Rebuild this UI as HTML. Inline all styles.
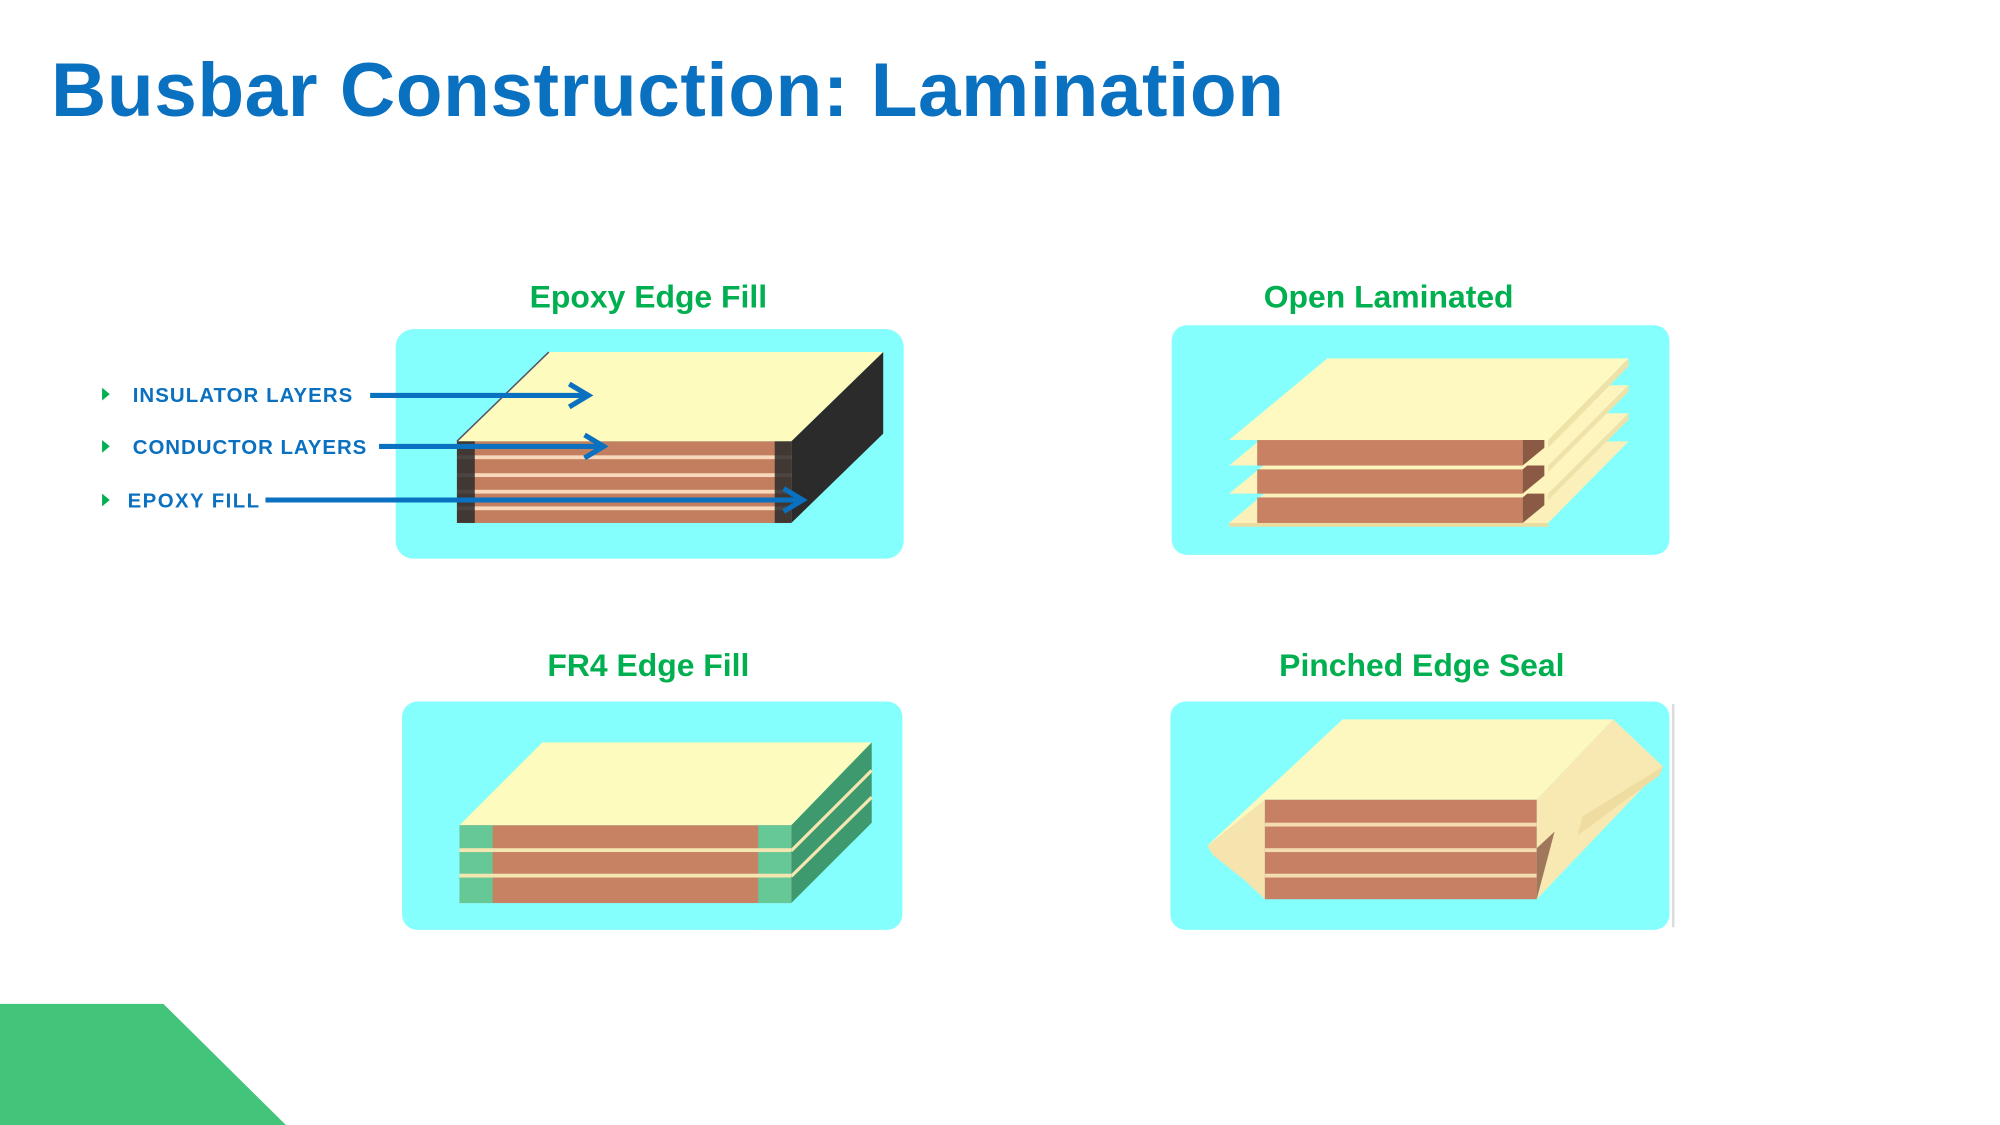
<!DOCTYPE html>
<html><head><meta charset="utf-8"><style>
html,body{margin:0;padding:0;background:#fff;width:2000px;height:1125px;overflow:hidden}
svg{display:block}
text{font-family:"Liberation Sans",Arial,sans-serif;font-weight:bold}
</style></head><body>
<svg width="2000" height="1125" viewBox="0 0 1567 882" preserveAspectRatio="none" xmlns="http://www.w3.org/2000/svg">
<text x="40" y="91" font-size="60" fill="#0a70c0" textLength="966">Busbar Construction: Lamination</text>
<g font-size="25" fill="#00b050" text-anchor="middle">
<text x="508" y="241">Epoxy Edge Fill</text>
<text x="1088" y="241">Open Laminated</text>
<text x="508" y="530">FR4 Edge Fill</text>
<text x="1114" y="530">Pinched Edge Seal</text>
</g>
<!-- panels -->
<rect x="310" y="258" width="398" height="180" rx="14" fill="#84fffd"/>
<rect x="918" y="255" width="390" height="180" rx="12" fill="#84fffd"/>
<rect x="315" y="550" width="392" height="179" rx="12" fill="#84fffd"/>
<rect x="917" y="550" width="391" height="179" rx="12" fill="#84fffd"/>
<line x1="1311" y1="552" x2="1311" y2="727" stroke="#ddd" stroke-width="2"/>

<!-- epoxy block -->
<polygon points="358,346 430,276 692,276 620,346" fill="#fdfbbd"/>
<line x1="358" y1="346" x2="430" y2="276" stroke="#556" stroke-width="1.2"/>
<polygon points="620,346 692,276 692,340 620,410" fill="#2b2b2b"/>
<rect x="358" y="346" width="262" height="64" fill="#c27e5e"/>
<g fill="#f7d8bb"><rect x="358" y="357" width="262" height="3"/><rect x="358" y="371" width="262" height="3"/><rect x="358" y="384" width="262" height="3"/><rect x="358" y="397" width="262" height="3"/></g>
<rect x="358" y="346" width="14" height="64" fill="#2b2b2b" opacity="0.85"/>
<rect x="607" y="346" width="13" height="64" fill="#2b2b2b" opacity="0.85"/>

<!-- labels & arrows -->
<g fill="#00b050"><polygon points="80,304 86,309 80,314"/><polygon points="80,345 86,350 80,355"/><polygon points="80,387 86,392 80,397"/></g>
<g font-size="16" fill="#0a70c0">
<text x="104" y="315" textLength="172">INSULATOR LAYERS</text>
<text x="104" y="356" textLength="183">CONDUCTOR LAYERS</text>
<text x="100" y="398" textLength="103">EPOXY FILL</text>
</g>
<g stroke="#0a70c0" stroke-width="4" fill="none">
<line x1="290" y1="310" x2="460" y2="310"/><polyline points="446,301 461,310 446,319"/>
<line x1="297" y1="350" x2="472" y2="350"/><polyline points="458,341 473,350 458,359"/>
<line x1="208" y1="392" x2="628" y2="392"/><polyline points="614,383 629,392 614,401"/>
</g>

<!-- open laminated -->
<g>
<polygon points="963,410 1040,346 1276,346 1213,410" fill="#fbf0ba"/><polygon points="963,410 1213,410 1213,413 963,413" fill="#eadca0"/>
<rect x="985" y="390" width="208" height="20" fill="#c98163"/><polygon points="1193,390 1210,376 1210,396 1193,410" fill="#8a5a45"/>
<polygon points="963,387 1040,324 1276,324 1213,387" fill="#fdf4be"/><polygon points="1213,387 1276,324 1276,329 1213,392" fill="#efe2a8"/>
<rect x="985" y="368" width="208" height="19" fill="#c98163"/><polygon points="1193,368 1210,354 1210,373 1193,387" fill="#8a5a45"/>
<polygon points="963,365 1040,302 1276,302 1213,365" fill="#fdf4be"/><polygon points="1213,365 1276,302 1276,307 1213,370" fill="#efe2a8"/>
<rect x="985" y="345" width="208" height="20" fill="#c98163"/><polygon points="1193,345 1210,331 1210,351 1193,365" fill="#8a5a45"/>
<polygon points="963,345 1040,281 1276,281 1213,345" fill="#fdf9c0"/><polygon points="1213,345 1276,281 1276,287 1213,351" fill="#efe2a8"/>
</g>

<!-- FR4 -->
<polygon points="360,647 425,582 683,582 620,647" fill="#fdfbbd"/>
<polygon points="620,647 683,582 683,645 620,708" fill="#3e9a6e"/>
<g stroke="#f4e6b0" stroke-width="2.5"><line x1="620" y1="667" x2="683" y2="604"/><line x1="620" y1="687" x2="683" y2="625"/></g>
<rect x="360" y="647" width="260" height="61" fill="#c78163"/>
<rect x="360" y="647" width="26" height="61" fill="#66c896"/><rect x="594" y="647" width="26" height="61" fill="#66c896"/>
<g fill="#f4e6b0"><rect x="360" y="665" width="260" height="3"/><rect x="360" y="685" width="260" height="3"/></g>

<!-- pinched -->
<polygon points="946,663 1052,564 1264,564 1204,627 991,627 960,655" fill="#fcf8bf"/>
<polygon points="1204,627 1264,564 1303,601 1204,705" fill="#f8e8b2"/>
<polygon points="1240,640 1303,601 1300,608 1236,655" fill="#efdca0"/>
<polygon points="946,663 991,627 991,705 975,690 950,670" fill="#f5e4ad"/>
<rect x="991" y="627" width="213" height="78" fill="#c88064"/>
<g fill="#f4dcb0"><rect x="991" y="645" width="213" height="3"/><rect x="991" y="665" width="213" height="3"/><rect x="991" y="685" width="213" height="3"/></g>
<polygon points="1204,665 1218,652 1204,705" fill="#8a5a45" opacity="0.8"/>

<polygon points="0,787 128,787 224,882 0,882" fill="#42c47b"/>
</svg>
</body></html>
